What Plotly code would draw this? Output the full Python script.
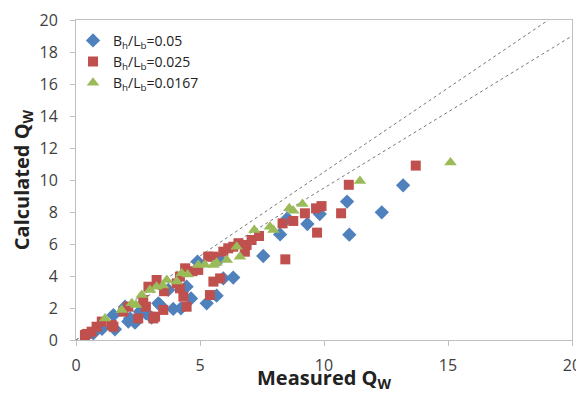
import plotly.graph_objects as go

# Series 1: Bh/Lb = 0.05 (blue diamonds)
meas_005 = [0.70, 1.57, 1.51, 1.98, 2.11, 2.18, 2.38, 2.58, 2.65, 2.82, 3.32, 3.39, 3.72, 3.92,
            4.23, 4.46, 4.64, 4.90, 5.27, 5.67, 5.78, 5.94, 6.34, 7.55, 8.23, 8.52, 9.33, 9.83,
            10.93, 11.02, 12.33, 13.19, 1.05, 3.05]
calc_005 = [0.42, 0.67, 1.56, 2.08, 1.15, 1.35, 1.08, 1.77, 1.88, 1.67, 2.29, 2.19, 3.13, 1.94,
            1.98, 3.33, 2.60, 4.90, 2.29, 2.77, 5.04, 3.85, 3.90, 5.25, 6.60, 7.60, 7.25, 7.87,
            8.65, 6.58, 7.98, 9.67, 0.70, 1.40]

# Series 2: Bh/Lb = 0.025 (red squares)
meas_0025 = [0.36, 0.43, 0.63, 0.83, 1.04, 1.44, 1.51, 1.91, 2.11, 2.51, 2.71, 2.82, 2.92, 3.12,
             3.19, 3.25, 3.52, 4.06, 4.19, 4.19, 4.33, 4.40, 4.46, 4.93, 5.33, 5.40, 5.54, 5.54,
             5.81, 5.94, 6.14, 6.34, 6.81, 6.88, 7.08, 7.38, 8.33, 8.44, 8.76, 9.23, 9.68, 9.90,
             9.72, 10.69, 11.00, 13.70, 3.55, 4.70, 6.55]
calc_0025 = [0.31, 0.38, 0.52, 0.83, 1.15, 0.94, 0.83, 1.77, 2.08, 1.35, 2.50, 2.08, 3.33, 1.35,
             1.46, 3.75, 1.88, 3.54, 3.96, 3.23, 2.71, 4.48, 2.08, 4.38, 5.21, 2.81, 5.21, 3.65,
             3.85, 5.52, 5.73, 5.83, 5.52, 5.94, 6.25, 6.50, 7.29, 5.04, 7.44, 7.92, 8.23, 8.37,
             6.71, 7.92, 9.70, 10.90, 3.05, 4.30, 6.05]

# Series 3: Bh/Lb = 0.0167 (green triangles)
meas_00167 = [1.17, 1.84, 2.25, 2.42, 2.65, 2.98, 3.25, 3.66, 4.06, 4.26, 4.93, 5.54, 5.67, 6.08,
              6.48, 6.61, 7.19, 7.82, 7.96, 8.60, 8.76, 9.13, 11.45, 15.10, 3.50, 4.50, 5.20]
calc_00167 = [1.35, 1.88, 2.29, 2.19, 2.81, 3.13, 3.33, 3.75, 3.65, 4.17, 4.69, 4.69, 4.83, 5.00,
              5.83, 5.21, 6.88, 7.08, 6.88, 8.23, 8.08, 8.50, 9.94, 11.10, 3.40, 4.10, 4.70]

# Reference lines (+/- 5 %)
line_hi_x = [0, 20 / 1.05]
line_hi_y = [0, 20]
line_lo_x = [0, 20]
line_lo_y = [0, 20 * 0.95]

fig = go.Figure()
fig.add_trace(go.Scatter(x=line_hi_x, y=line_hi_y, mode="lines", showlegend=False,
                         line=dict(color="#777777", width=1, dash="dot"), hoverinfo="skip"))
fig.add_trace(go.Scatter(x=line_lo_x, y=line_lo_y, mode="lines", showlegend=False,
                         line=dict(color="#777777", width=1, dash="dot"), hoverinfo="skip"))
fig.add_trace(go.Scatter(x=meas_005, y=calc_005, mode="markers",
                         name="B<sub>h</sub>/L<sub>b</sub>=0.05",
                         marker=dict(symbol="diamond", size=11, color="#4F81BD")))
fig.add_trace(go.Scatter(x=meas_0025, y=calc_0025, mode="markers",
                         name="B<sub>h</sub>/L<sub>b</sub>=0.025",
                         marker=dict(symbol="square", size=10, color="#C0504D")))
fig.add_trace(go.Scatter(x=meas_00167, y=calc_00167, mode="markers",
                         name="B<sub>h</sub>/L<sub>b</sub>=0.0167",
                         marker=dict(symbol="triangle-up", size=11, color="#9BBB59")))

axis_common = dict(showgrid=False, zeroline=False, showline=True, linecolor="#BFBFBF",
                   linewidth=1, mirror=True, ticks="outside", ticklen=5, tickcolor="#BFBFBF",
                   automargin=False,
                   tickfont=dict(size=16, color="#404040", family="Open Sans"))

fig.update_layout(
    width=576, height=385,
    margin=dict(l=68, r=12, t=12, b=53),
    paper_bgcolor="white", plot_bgcolor="white",
    font=dict(family="Open Sans", color="#222222"),
    xaxis=dict(range=[0, 20], dtick=5, ticklabelstandoff=6, **axis_common,
               title=dict(text="<b>Measured Q<sub>W</sub></b>", font=dict(size=20, color="#222222"),
                          standoff=0)),
    yaxis=dict(range=[0, 20], dtick=2, ticklabelstandoff=9, **axis_common,
               title=dict(text="<b>Calculated Q<sub>W</sub></b>", font=dict(size=20, color="#222222"),
                          standoff=10)),
    legend=dict(x=-0.006, y=0.985, xanchor="left", yanchor="top", bgcolor="rgba(0,0,0,0)",
                font=dict(size=14, color="#222222"), tracegroupgap=0, itemwidth=30),
)

fig.write_html("out.html")
